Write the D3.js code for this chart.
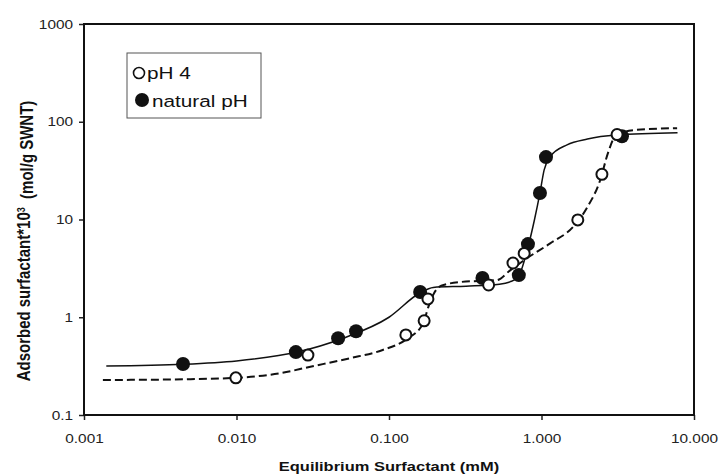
<!DOCTYPE html>
<meta charset="utf-8">
<script src="https://d3js.org/d3.v7.min.js"></script>
<style>
  body { margin: 0; background: #fff; }
  text { font-family: "Liberation Sans", Arial, sans-serif; fill: #111; }
</style>
<svg id="chart" width="723" height="476"></svg>
<script>

// pH 4 (open circles)
var ph4X = [0.0099, 0.0294, 0.129, 0.17, 0.18, 0.45, 0.65, 0.77, 1.73, 2.49, 3.13];
var ph4Y = [0.24, 0.41, 0.66, 0.92, 1.54, 2.14, 3.59, 4.5, 9.9, 29, 74];

// natural pH (filled circles)
var natX = [0.00446, 0.0245, 0.0464, 0.0608, 0.16, 0.41, 0.71, 0.815, 0.977, 1.07, 3.37];
var natY = [0.333, 0.44, 0.61, 0.72, 1.81, 2.52, 2.7, 5.6, 18.7, 43.5, 71];

// fitted curves
var natFitX = [0.0014, 0.0045, 0.01, 0.025, 0.05, 0.1, 0.16, 0.195, 0.32, 0.53, 0.62, 0.7, 0.815, 0.9, 0.977, 1.04, 1.14, 1.47, 2.0, 3.1, 7.8];
var natFitY = [0.317, 0.33, 0.357, 0.44, 0.61, 1.0, 1.78, 2.02, 2.08, 2.18, 2.3, 2.55, 5.2, 10, 18.7, 32, 44, 58, 66.5, 73, 77];

var ph4FitX = [0.00133, 0.0045, 0.01, 0.02, 0.03, 0.055, 0.09, 0.131, 0.167, 0.182, 0.197, 0.22, 0.3, 0.51, 0.62, 0.8, 1.14, 1.61, 2.0, 2.42, 2.73, 3.03, 4.0, 7.75];
var ph4FitY = [0.228, 0.232, 0.24, 0.27, 0.31, 0.38, 0.46, 0.6, 0.86, 1.3, 1.75, 2.1, 2.3, 2.4, 3.0, 4.0, 5.7, 8.4, 13.4, 25, 48, 70, 82, 86];

var xTicks = [0.001, 0.01, 0.1, 1, 10];
var xTickLabels = ["0.001", "0.010", "0.100", "1.000", "10.000"];
var yTicks = [0.1, 1, 10, 100, 1000];
var yTickLabels = ["0.1", "1", "10", "100", "1000"];

var SX = 1.22; // the scanned figure is stretched sideways

var svg = d3.select("#chart");

var x = d3.scaleLog().domain([0.001, 10]).range([84, 694]);
var y = d3.scaleLog().domain([0.1, 1000]).range([415, 24]);

// axes
var xAxis = svg.append("g")
    .attr("transform", "translate(0,415)")
    .call(d3.axisBottom(x).tickValues(xTicks)
      .tickFormat(function(d, i){ return xTickLabels[i]; })
      .tickSize(5).tickSizeOuter(0).tickPadding(14));

var yAxis = svg.append("g")
    .attr("transform", "translate(84,0)")
    .call(d3.axisLeft(y).tickValues(yTicks)
      .tickFormat(function(d, i){ return yTickLabels[i]; })
      .tickSize(5).tickSizeOuter(0).tickPadding(4));

[xAxis, yAxis].forEach(function(a){
  a.select(".domain").remove();
  a.selectAll("line").attr("stroke", "#222").attr("stroke-width", 1.5);
  a.selectAll("text")
    .attr("transform", "scale(" + SX + ",1)")
    .style("font-size", "12.6px")
    .style("fill", "#222");
});

// frame
svg.append("rect")
  .attr("x", 84).attr("y", 24)
  .attr("width", 610).attr("height", 391)
  .attr("fill", "none")
  .attr("stroke", "#111")
  .attr("stroke-width", 2);

// curves
var line = d3.line()
  .x(function(d){ return x(d[0]); })
  .y(function(d){ return y(d[1]); })
  .curve(d3.curveMonotoneX);

svg.append("path")
  .datum(d3.zip(ph4FitX, ph4FitY))
  .attr("d", line)
  .attr("fill", "none")
  .attr("stroke", "#111")
  .attr("stroke-width", 2)
  .attr("stroke-dasharray", "8,4");

svg.append("path")
  .datum(d3.zip(natFitX, natFitY))
  .attr("d", line)
  .attr("fill", "none")
  .attr("stroke", "#111")
  .attr("stroke-width", 1.5);

// points
svg.append("g")
  .selectAll("circle")
  .data(d3.zip(natX, natY))
  .enter().append("circle")
    .attr("cx", function(d){ return x(d[0]); })
    .attr("cy", function(d){ return y(d[1]); })
    .attr("r", 7)
    .attr("fill", "#111");

svg.append("g")
  .selectAll("circle")
  .data(d3.zip(ph4X, ph4Y))
  .enter().append("circle")
    .attr("cx", function(d){ return x(d[0]); })
    .attr("cy", function(d){ return y(d[1]); })
    .attr("r", 5.5)
    .attr("fill", "#fff")
    .attr("stroke", "#111")
    .attr("stroke-width", 2);

// legend
var legend = svg.append("g");
legend.append("rect")
  .attr("x", 127).attr("y", 53)
  .attr("width", 134).attr("height", 65)
  .attr("fill", "#fff")
  .attr("stroke", "#555")
  .attr("stroke-width", 1);
legend.append("circle")
  .attr("cx", 139).attr("cy", 73).attr("r", 5.5)
  .attr("fill", "#fff").attr("stroke", "#111").attr("stroke-width", 1.6);
legend.append("circle")
  .attr("cx", 142).attr("cy", 100).attr("r", 7)
  .attr("fill", "#111");
legend.append("text")
  .attr("transform", "translate(147,79) scale(" + SX + ",1)")
  .style("font-size", "17px")
  .text("pH 4");
legend.append("text")
  .attr("transform", "translate(152,107) scale(" + SX + ",1)")
  .style("font-size", "17px")
  .text("natural pH");

// axis titles
svg.append("text")
  .attr("transform", "translate(389,471) scale(" + SX + ",1)")
  .attr("text-anchor", "middle")
  .style("font-size", "13.5px")
  .style("font-weight", "bold")
  .text("Equilibrium Surfactant (mM)");

var yt = svg.append("text")
  .attr("transform", "translate(30,241) rotate(-90) scale(1," + SX + ")")
  .attr("text-anchor", "middle")
  .style("font-size", "15px")
  .style("font-weight", "bold");
yt.append("tspan").text("Adsorbed surfactant*10");
yt.append("tspan").attr("dy", "-0.45em").style("font-size", "9px").text("3");
yt.append("tspan").attr("dy", "0.45em").attr("xml:space", "preserve").text("  (mol/g SWNT)");

</script>
